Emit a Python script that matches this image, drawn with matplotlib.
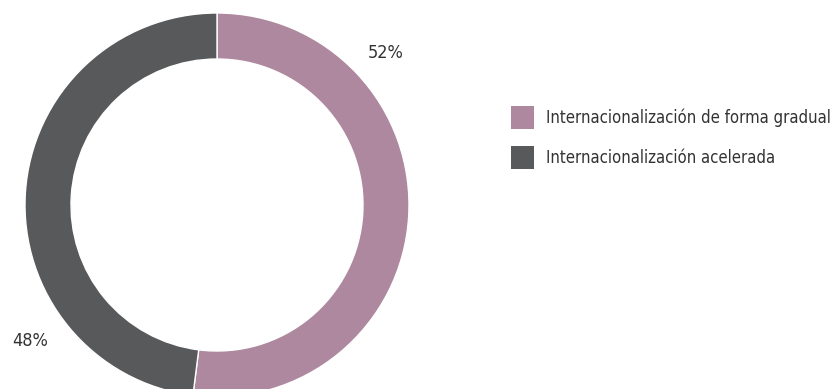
import matplotlib
matplotlib.use("Agg")
import matplotlib.pyplot as plt
from matplotlib.patches import Patch

labels = ["Internacionalización de forma gradual", "Internacionalización acelerada"]
values = [52, 48]
colors = ["#ae889e", "#58595b"]
pct_labels = ["52%", "48%"]

plt.rcParams['font.family'] = ['DejaVu Sans']
plt.rcParams['font.stretch'] = 'condensed'

fig = plt.figure(figsize=(8.4, 3.89), dpi=100)
ax = fig.add_axes([0, 0, 1, 1])

wedges, _ = ax.pie(values, colors=colors, startangle=90, counterclock=False,
                   center=(217, 184), radius=192,
                   wedgeprops=dict(width=46, edgecolor='white', linewidth=1))
ax.set_xlim(0, 840)
ax.set_ylim(0, 389)
ax.set_aspect('equal')
ax.axis('off')

ax.text(386, 336, pct_labels[0], ha='center', va='center', fontsize=13, color='#333333')
ax.text(30, 48, pct_labels[1], ha='center', va='center', fontsize=13, color='#333333')

handles = [Patch(facecolor=c, edgecolor='none') for c in colors]
fig.legend(handles, labels, loc='upper left', bbox_to_anchor=(511 / 840, 1 - 106 / 389),
           frameon=False, fontsize=12, handlelength=1.35, handleheight=1.74,
           labelspacing=1.05, handletextpad=0.75, borderpad=0, borderaxespad=0,
           labelcolor='#333333')

fig.savefig("out.png", dpi=100)
